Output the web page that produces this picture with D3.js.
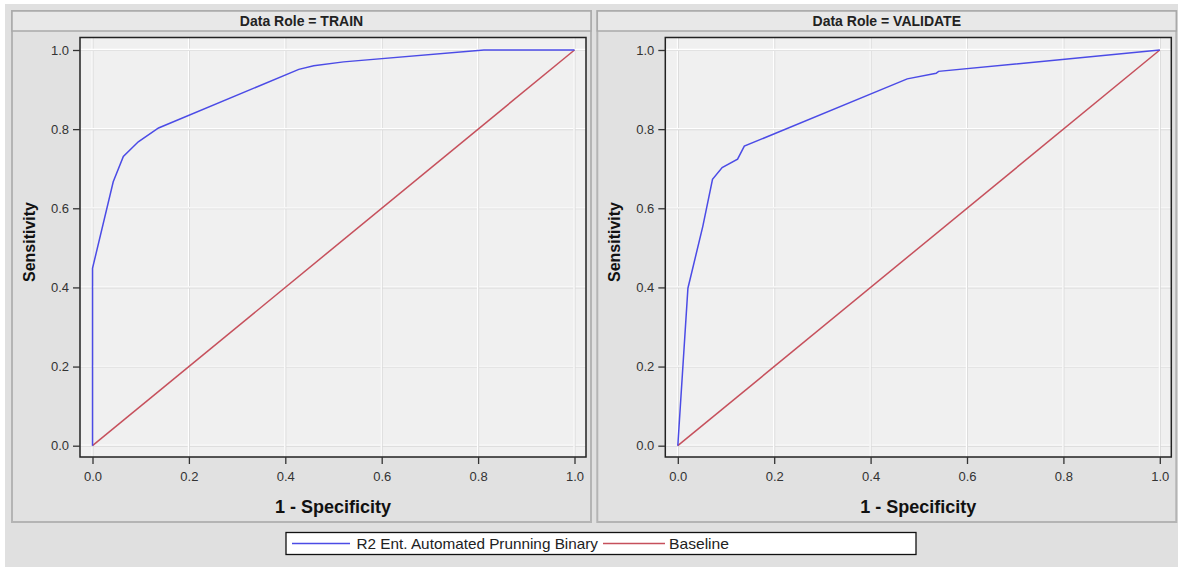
<!DOCTYPE html>
<html lang="en">
<head>
<meta charset="UTF-8">
<title>ROC - Data Role</title>
<script src="https://d3js.org/d3.v7.min.js"></script>
<style>
  body { margin: 0; background: #fff; }
  svg { display: block; font-family: Arial, "Liberation Sans", sans-serif; }
</style>
</head>
<body>
<div id="chart"></div>
<script>
  // data
  var panels = ["TRAIN", "VALIDATE"];
  var trainFpr = [0, 0, 0.043, 0.064, 0.095, 0.137, 0.428, 0.459, 0.521, 0.812, 1];
  var trainTpr = [0, 0.448, 0.667, 0.731, 0.768, 0.803, 0.951, 0.960, 0.970, 1.0, 1];
  var validFpr = [0, 0.021, 0.052, 0.072, 0.092, 0.124, 0.138, 0.476, 0.536, 0.541, 1];
  var validTpr = [0, 0.398, 0.555, 0.673, 0.703, 0.724, 0.757, 0.927, 0.941, 0.946, 1];
  var baseFpr = [0, 1];
  var baseTpr = [0, 1];
  var tickValues = [0, 0.2, 0.4, 0.6, 0.8, 1.0];
  var seriesNames = ["R2 Ent. Automated Prunning Binary", "Baseline"];

  var curves = [
    { fpr: trainFpr, tpr: trainTpr },
    { fpr: validFpr, tpr: validTpr }
  ];

  var blue = "#4b4be6", red = "#c6505c";

  var width = 1180, height = 567;

  var svg = d3.select("#chart").append("svg")
      .attr("width", width)
      .attr("height", height);

  svg.append("rect").attr("x", 5).attr("y", 4).attr("width", 1173).attr("height", 563)
      .attr("fill", "#e0e0e0");

  panels.forEach(function (role, i) {
    var px = 12 + i * 585.3, pw = 579;
    var fl = px + 68, fr = px + 574, ft = 37.5, fb = 457;

    var g = svg.append("g");

    // panel box + header band
    g.append("rect").attr("x", px).attr("y", 11).attr("width", pw).attr("height", 511)
        .attr("fill", "#e1e1e1").attr("stroke", "#b4b4b4").attr("stroke-width", 2);
    g.append("rect").attr("x", px).attr("y", 11).attr("width", pw).attr("height", 20)
        .attr("fill", "#e8e8e8").attr("stroke", "#a9a9a9").attr("stroke-width", 1.5);
    g.append("text")
        .attr("x", px + pw / 2).attr("y", 21).attr("dy", "0.35em")
        .attr("text-anchor", "middle").attr("font-size", 14).attr("font-weight", "bold")
        .attr("fill", "#222")
        .text("Data Role = " + role);

    var x = d3.scaleLinear().domain([0, 1]).range([fl + 12.5, fr - 11.5]);
    var y = d3.scaleLinear().domain([0, 1]).range([fb - 11.3, ft + 12.5]);

    g.append("rect").attr("x", fl).attr("y", ft).attr("width", fr - fl).attr("height", fb - ft)
        .attr("fill", "#f0f0f0");

    // grid
    var grid = g.append("g");
    tickValues.forEach(function (t) {
      grid.append("line").attr("x1", x(t)).attr("x2", x(t)).attr("y1", ft).attr("y2", fb)
          .attr("stroke", "#d8d8d8").attr("stroke-width", 2);
      grid.append("line").attr("x1", x(t) - 0.5).attr("x2", x(t) - 0.5).attr("y1", ft).attr("y2", fb)
          .attr("stroke", "#ffffff").attr("stroke-width", 1.3);
      grid.append("line").attr("y1", y(t)).attr("y2", y(t)).attr("x1", fl).attr("x2", fr)
          .attr("stroke", "#d8d8d8").attr("stroke-width", 2);
      grid.append("line").attr("y1", y(t) - 0.5).attr("y2", y(t) - 0.5).attr("x1", fl).attr("x2", fr)
          .attr("stroke", "#ffffff").attr("stroke-width", 1.3);
    });

    var line = d3.line()
        .x(function (d) { return x(d[0]); })
        .y(function (d) { return y(d[1]); });

    var base = baseFpr.map(function (v, k) { return [v, baseTpr[k]]; });
    var roc = curves[i].fpr.map(function (v, k) { return [v, curves[i].tpr[k]]; });

    g.append("path").datum(base).attr("d", line)
        .attr("fill", "none").attr("stroke", red).attr("stroke-width", 1.5);
    g.append("path").datum(roc).attr("d", line)
        .attr("fill", "none").attr("stroke", blue).attr("stroke-width", 1.5);

    // frame
    g.append("rect").attr("x", fl).attr("y", ft).attr("width", fr - fl).attr("height", fb - ft)
        .attr("fill", "none").attr("stroke", "#222").attr("stroke-width", 1.5);

    // axes
    var ya = g.append("g").attr("transform", "translate(" + fl + ",0)")
        .call(d3.axisLeft(y).tickValues(tickValues).tickFormat(d3.format(".1f"))
          .tickSize(7).tickPadding(4));
    var xa = g.append("g").attr("transform", "translate(0," + fb + ")")
        .call(d3.axisBottom(x).tickValues(tickValues).tickFormat(d3.format(".1f"))
          .tickSize(7).tickPadding(8));
    [ya, xa].forEach(function (a) {
      a.select(".domain").remove();
      a.selectAll(".tick line").attr("stroke", "#333").attr("stroke-width", 1.3);
      a.selectAll(".tick text").attr("fill", "#333").attr("font-size", 13)
          .attr("font-family", "Arial, 'Liberation Sans', sans-serif");
    });

    g.append("text")
        .attr("x", (fl + fr) / 2).attr("y", 507).attr("dy", "0.35em")
        .attr("text-anchor", "middle").attr("font-size", 18).attr("font-weight", "bold")
        .attr("fill", "#111")
        .text("1 - Specificity");

    g.append("text")
        .attr("transform", "translate(" + (px + 17) + "," + 242 + ") rotate(-90)")
        .attr("dy", "0.35em")
        .attr("text-anchor", "middle").attr("font-size", 16).attr("font-weight", "bold")
        .attr("fill", "#111")
        .text("Sensitivity");
  });

  // legend
  var lg = svg.append("g");
  lg.append("rect").attr("x", 286).attr("y", 532.5).attr("width", 630).attr("height", 22)
      .attr("fill", "#fff").attr("stroke", "#111").attr("stroke-width", 1.3);
  var legendItems = [
    { name: seriesNames[0], color: blue, x0: 292, x1: 350, tx: 356.5, tw: 241.5 },
    { name: seriesNames[1], color: red, x0: 603, x1: 665, tx: 669, tw: 60 }
  ];
  legendItems.forEach(function (d) {
    lg.append("line").attr("x1", d.x0).attr("x2", d.x1).attr("y1", 543.5).attr("y2", 543.5)
        .attr("stroke", d.color).attr("stroke-width", 1.3);
    lg.append("text").attr("x", d.tx).attr("y", 543.5).attr("dy", "0.35em")
        .attr("font-size", 14.5).attr("fill", "#222")
        .attr("textLength", d.tw).attr("lengthAdjust", "spacingAndGlyphs")
        .text(d.name);
  });
</script>
</body>
</html>
